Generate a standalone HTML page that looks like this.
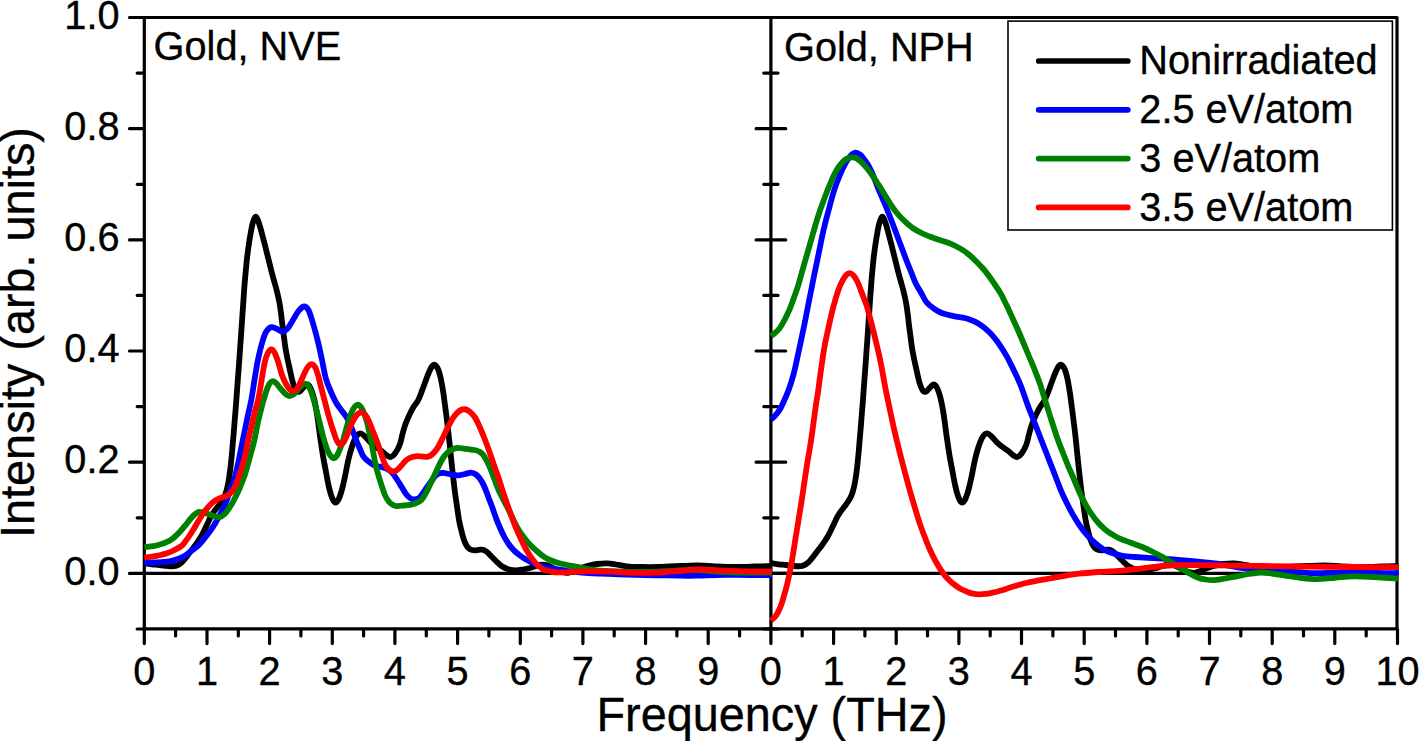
<!DOCTYPE html>
<html>
<head>
<meta charset="utf-8">
<title>Gold phonon spectra</title>
<style>
html,body{margin:0;padding:0;background:#fff;}
body{width:1419px;height:741px;overflow:hidden;font-family:"Liberation Sans",sans-serif;}
svg{display:block;}
</style>
</head>
<body>
<svg width="1419" height="741" viewBox="0 0 1419 741">
<defs>
<clipPath id="cl"><rect x="144.1" y="0" width="627.8" height="741"/></clipPath>
<clipPath id="cr"><rect x="769.9" y="0" width="628.7" height="741"/></clipPath>
</defs>
<rect x="0" y="0" width="1419" height="741" fill="#fff"/>
<g stroke="#000" stroke-width="3.20" fill="none" stroke-linecap="round">
<path d="M144.3 17.5 H1397.0 V628.8 H144.3 Z" stroke-linejoin="round"/>
<path d="M770.9 17.5 V628.8"/>
<path d="M144.3 573.4 H1397.0"/>
</g>
<g stroke="#000" stroke-width="3.20" fill="none" stroke-linecap="round">
<path d="M137.2 629.0H143.7M763.8 629.0H778.0M129.5 573.4H143.7M756.1 573.4H785.7M137.2 517.8H143.7M763.8 517.8H778.0M129.5 462.2H143.7M756.1 462.2H785.7M137.2 406.6H143.7M763.8 406.6H778.0M129.5 351.0H143.7M756.1 351.0H785.7M137.2 295.4H143.7M763.8 295.4H778.0M129.5 239.9H143.7M756.1 239.9H785.7M137.2 184.3H143.7M763.8 184.3H778.0M129.5 128.7H143.7M756.1 128.7H785.7M137.2 73.1H143.7M763.8 73.1H778.0M129.5 17.5H143.7M756.1 17.5H785.7"/>
<path d="M144.3 629.4V643.6M175.6 629.4V635.9M207.0 629.4V643.6M238.3 629.4V635.9M269.6 629.4V643.6M300.9 629.4V635.9M332.3 629.4V643.6M363.6 629.4V635.9M394.9 629.4V643.6M426.3 629.4V635.9M457.6 629.4V643.6M488.9 629.4V635.9M520.3 629.4V643.6M551.6 629.4V635.9M582.9 629.4V643.6M614.2 629.4V635.9M645.6 629.4V643.6M676.9 629.4V635.9M708.2 629.4V643.6M739.6 629.4V635.9M770.9 629.4V643.6M770.9 629.4V643.6M802.2 629.4V635.9M833.6 629.4V643.6M864.9 629.4V635.9M896.2 629.4V643.6M927.5 629.4V635.9M958.9 629.4V643.6M990.2 629.4V635.9M1021.5 629.4V643.6M1052.9 629.4V635.9M1084.2 629.4V643.6M1115.5 629.4V635.9M1146.9 629.4V643.6M1178.2 629.4V635.9M1209.5 629.4V643.6M1240.8 629.4V635.9M1272.2 629.4V643.6M1303.5 629.4V635.9M1334.8 629.4V643.6M1366.2 629.4V635.9M1397.5 629.4V643.6"/>
</g>
<g fill="none" stroke-width="5.8" stroke-linejoin="round" stroke-linecap="butt">
<g clip-path="url(#cr)">
<path stroke="#000000" d="M770.9 563.2C772.2 563.4 776.1 564.0 778.6 564.3C781.1 564.6 783.6 564.7 786.1 565.0C788.6 565.3 791.2 565.7 793.6 565.9C796.0 566.1 798.8 566.4 800.6 566.2C802.4 566.1 803.3 565.6 804.6 565.0C805.9 564.4 807.0 563.5 808.2 562.5C809.4 561.5 810.4 560.1 811.6 558.7C812.8 557.3 814.0 555.6 815.2 554.0C816.4 552.4 817.6 550.8 818.8 549.3C820.0 547.8 821.2 546.2 822.3 544.7C823.4 543.2 824.3 541.9 825.2 540.5C826.1 539.1 827.1 537.6 827.9 536.2C828.7 534.8 829.4 533.4 830.1 532.0C830.8 530.6 831.4 529.3 832.1 527.8C832.8 526.3 833.6 524.7 834.3 523.2C835.0 521.7 835.7 520.0 836.4 518.6C837.1 517.2 837.7 516.2 838.4 515.0C839.1 513.8 839.8 512.7 840.6 511.6C841.4 510.5 842.3 509.5 843.1 508.4C843.9 507.3 844.7 506.3 845.5 505.2C846.3 504.1 847.3 502.8 848.1 501.5C848.9 500.2 849.9 498.8 850.5 497.5C851.1 496.2 851.5 495.3 852.0 494.0C852.5 492.7 852.9 491.2 853.3 489.7C853.7 488.2 854.1 486.6 854.4 485.0C854.8 483.4 855.0 482.4 855.4 479.9C855.8 477.4 856.3 473.8 856.8 470.0C857.3 466.2 857.7 461.8 858.2 457.0C858.7 452.2 859.1 446.8 859.6 441.0C860.1 435.2 860.7 428.5 861.2 422.0C861.7 415.5 862.3 409.0 862.8 402.0C863.3 395.0 863.9 387.5 864.4 380.0C865.0 372.5 865.6 364.3 866.1 357.0C866.6 349.7 867.1 343.2 867.6 336.0C868.1 328.8 868.6 320.8 869.1 314.0C869.6 307.2 870.0 301.2 870.4 295.0C870.9 288.8 871.3 282.7 871.8 277.0C872.3 271.3 872.8 265.8 873.3 261.0C873.8 256.2 874.4 252.0 874.9 248.0C875.5 244.0 875.9 241.0 876.6 237.0C877.3 233.0 878.2 227.4 879.1 224.0C880.0 220.6 881.1 217.4 882.0 216.8C882.9 216.2 883.8 218.7 884.6 220.5C885.4 222.3 886.2 225.0 886.9 227.5C887.6 230.0 888.3 232.7 889.0 235.3C889.7 237.9 890.3 240.4 891.0 243.0C891.7 245.6 892.3 248.3 893.0 251.0C893.7 253.7 894.3 256.3 895.0 259.0C895.7 261.7 896.3 264.2 897.0 267.0C897.7 269.8 898.5 273.1 899.3 276.0C900.1 278.9 901.0 281.8 901.7 284.5C902.5 287.2 903.2 290.0 903.8 292.5C904.4 295.0 904.9 297.2 905.4 299.5C905.9 301.8 906.2 303.6 906.6 306.0C907.0 308.4 907.3 311.1 907.7 314.0C908.1 316.9 908.4 320.0 908.8 323.5C909.2 327.0 909.8 331.1 910.3 335.0C910.8 338.9 911.3 343.0 911.9 347.0C912.5 351.0 913.4 355.5 914.1 359.0C914.8 362.5 915.2 364.0 916.1 368.0C917.0 372.0 918.4 379.2 919.6 383.0C920.8 386.8 922.0 389.6 923.1 391.0C924.2 392.4 925.0 392.0 926.1 391.5C927.2 391.0 928.4 389.2 929.6 388.0C930.9 386.8 932.4 384.5 933.6 384.5C934.9 384.5 935.9 385.7 937.1 388.0C938.3 390.3 939.5 394.2 940.6 398.5C941.7 402.8 942.6 407.8 943.6 414.0C944.6 420.2 945.6 429.0 946.6 436.0C947.6 443.0 948.6 450.0 949.6 456.0C950.6 462.0 951.7 467.0 952.6 472.0C953.5 477.0 954.5 482.4 955.3 486.0C956.1 489.6 956.6 491.5 957.3 493.8C958.0 496.1 958.8 498.3 959.6 499.8C960.4 501.3 961.4 502.6 962.3 502.6C963.2 502.6 964.1 501.3 965.0 499.8C965.9 498.3 966.6 495.9 967.4 493.5C968.2 491.1 968.8 488.8 969.6 485.5C970.4 482.2 971.2 478.4 972.1 474.0C973.0 469.6 974.0 463.7 975.1 459.1C976.2 454.5 977.4 450.2 978.6 446.5C979.9 442.8 981.2 439.2 982.6 437.0C984.0 434.8 985.3 433.4 986.8 433.3C988.3 433.2 989.9 435.0 991.6 436.5C993.3 438.0 995.0 440.6 996.8 442.3C998.6 444.1 1000.6 445.5 1002.6 447.0C1004.6 448.5 1006.8 449.8 1008.6 451.2C1010.4 452.6 1012.1 454.5 1013.6 455.5C1015.1 456.5 1016.1 457.3 1017.4 457.0C1018.7 456.7 1020.1 455.6 1021.6 453.5C1023.1 451.4 1025.2 447.8 1026.4 444.5C1027.7 441.2 1028.1 437.4 1029.1 434.0C1030.0 430.6 1030.9 427.2 1032.1 424.0C1033.3 420.8 1034.8 417.4 1036.1 414.6C1037.4 411.8 1038.7 409.4 1040.1 407.0C1041.5 404.6 1043.3 402.8 1044.6 400.5C1045.8 398.2 1046.7 395.9 1047.6 393.5C1048.5 391.1 1049.3 388.9 1050.2 386.4C1051.1 383.9 1052.1 381.0 1053.1 378.5C1054.0 376.0 1055.0 373.5 1055.9 371.5C1056.8 369.5 1057.8 367.4 1058.6 366.3C1059.4 365.2 1059.9 364.2 1060.9 364.7C1061.9 365.1 1063.5 366.5 1064.6 369.0C1065.7 371.5 1066.7 375.3 1067.6 379.5C1068.5 383.7 1069.3 389.1 1070.1 394.0C1070.8 398.9 1071.4 403.9 1072.1 409.1C1072.8 414.3 1073.4 419.6 1074.1 425.0C1074.8 430.4 1075.3 435.3 1076.0 441.5C1076.7 447.7 1077.3 454.4 1078.1 462.0C1078.9 469.6 1080.1 480.2 1080.9 487.0C1081.7 493.8 1082.3 497.5 1083.1 503.0C1083.9 508.5 1084.8 515.3 1085.6 520.0C1086.4 524.7 1087.3 527.7 1088.1 531.0C1088.9 534.3 1089.7 537.5 1090.6 540.0C1091.5 542.5 1092.6 544.8 1093.6 546.3C1094.6 547.8 1095.3 548.6 1096.6 549.3C1097.9 550.0 1099.8 550.2 1101.3 550.3C1102.8 550.4 1104.2 549.9 1105.6 549.8C1107.0 549.7 1108.3 549.4 1109.6 549.8C1110.9 550.2 1112.3 551.0 1113.6 552.0C1114.9 553.0 1116.1 554.5 1117.6 556.0C1119.1 557.5 1120.7 559.2 1122.6 561.0C1124.5 562.8 1126.7 565.1 1128.9 566.5C1131.1 567.9 1133.3 568.9 1135.6 569.5C1137.9 570.1 1140.4 570.4 1142.7 570.4C1145.0 570.4 1147.3 569.9 1149.6 569.5C1151.9 569.1 1154.4 568.6 1156.6 568.0C1158.8 567.4 1160.6 566.6 1162.6 566.0C1164.6 565.4 1166.4 564.7 1168.4 564.6C1170.4 564.5 1172.2 564.7 1174.6 565.5C1177.0 566.3 1180.1 568.4 1182.6 569.5C1185.1 570.6 1187.6 571.8 1189.6 572.3C1191.6 572.8 1192.8 573.0 1194.6 572.8C1196.4 572.6 1198.6 571.8 1200.6 571.0C1202.6 570.2 1204.4 569.1 1206.6 568.3C1208.8 567.5 1211.0 566.7 1213.8 566.0C1216.6 565.3 1220.3 564.4 1223.6 564.0C1226.9 563.6 1230.3 563.3 1233.5 563.4C1236.7 563.5 1239.3 564.0 1242.6 564.5C1245.9 565.0 1249.2 565.9 1253.2 566.3C1257.2 566.7 1261.4 566.9 1266.6 567.0C1271.8 567.1 1277.9 567.2 1284.6 567.0C1291.3 566.8 1300.0 566.2 1306.6 566.0C1313.2 565.8 1318.4 565.5 1324.2 565.5C1330.0 565.5 1335.0 566.0 1341.6 566.3C1348.2 566.5 1356.9 567.0 1363.6 567.0C1370.3 567.0 1375.8 566.7 1381.6 566.5C1387.4 566.3 1395.8 566.1 1398.6 566.0"/>
<path stroke="#0000ff" d="M770.9 419.6C771.6 419.0 773.5 417.5 775.0 415.8C776.5 414.1 778.2 412.2 779.7 409.7C781.2 407.2 782.5 404.3 784.0 401.0C785.5 397.7 787.0 394.4 788.6 390.0C790.2 385.6 792.0 379.9 793.5 374.4C795.0 368.9 796.2 362.9 797.5 357.0C798.8 351.1 800.1 345.2 801.4 338.9C802.7 332.6 804.2 325.6 805.5 319.0C806.8 312.4 807.9 306.5 809.3 299.5C810.7 292.5 812.6 282.9 813.8 277.0C815.0 271.1 815.7 267.8 816.5 264.0C817.3 260.2 817.6 258.6 818.5 254.3C819.4 250.0 820.7 243.3 821.8 238.0C822.9 232.7 823.9 228.2 825.3 222.7C826.7 217.2 828.5 210.6 830.0 205.0C831.5 199.4 832.9 194.0 834.5 189.2C836.1 184.4 837.9 179.9 839.5 176.0C841.1 172.1 842.6 168.7 844.3 165.5C846.0 162.3 847.8 159.2 849.6 157.0C851.4 154.8 853.5 153.0 855.3 152.6C857.1 152.2 858.8 153.6 860.3 154.8C861.8 156.0 863.1 157.9 864.5 159.8C865.9 161.7 867.1 163.3 868.6 166.0C870.1 168.7 871.8 172.1 873.4 176.0C875.0 179.9 876.7 184.9 878.5 189.2C880.3 193.5 882.2 197.7 884.0 202.0C885.8 206.3 887.5 210.5 889.2 214.8C890.9 219.1 892.5 223.4 894.3 228.0C896.0 232.6 897.8 237.5 899.7 242.5C901.6 247.5 903.5 252.8 905.5 258.0C907.5 263.2 910.2 269.7 911.9 274.0C913.6 278.3 914.3 280.4 915.9 283.7C917.5 286.9 919.7 290.4 921.5 293.5C923.3 296.6 924.5 299.7 926.5 302.2C928.5 304.7 931.2 306.6 933.6 308.3C936.0 310.0 938.2 311.4 940.6 312.5C943.0 313.6 945.1 314.1 947.7 314.8C950.3 315.5 953.3 316.1 956.1 316.6C958.9 317.1 962.0 317.4 964.6 318.0C967.2 318.6 969.2 319.2 971.6 320.2C974.0 321.1 976.4 322.2 978.7 323.7C981.1 325.1 983.4 326.9 985.7 328.9C988.1 330.9 990.4 333.2 992.8 335.9C995.1 338.6 997.5 341.7 999.8 345.1C1002.1 348.5 1004.4 352.2 1006.8 356.4C1009.1 360.6 1011.5 365.6 1013.9 370.5C1016.2 375.4 1018.7 380.4 1020.9 386.0C1023.1 391.6 1025.3 398.5 1027.3 404.0C1029.3 409.5 1031.2 414.1 1033.1 418.9C1035.0 423.7 1036.5 427.7 1038.6 433.0C1040.6 438.3 1043.0 444.3 1045.4 450.5C1047.8 456.7 1051.0 464.9 1053.0 470.0C1055.0 475.1 1055.8 477.4 1057.2 481.0C1058.6 484.6 1059.8 487.9 1061.4 491.7C1063.0 495.4 1065.0 499.6 1067.0 503.5C1069.0 507.4 1071.1 511.6 1073.3 515.4C1075.5 519.1 1077.7 522.7 1080.0 526.0C1082.3 529.3 1084.6 532.3 1087.1 535.1C1089.6 537.9 1092.4 540.7 1095.0 543.0C1097.6 545.3 1100.1 547.2 1102.9 548.9C1105.7 550.6 1108.7 551.9 1112.0 553.0C1115.3 554.1 1118.8 555.1 1122.6 555.8C1126.4 556.5 1130.7 556.7 1135.0 557.0C1139.3 557.3 1143.6 557.5 1148.3 557.8C1153.0 558.1 1158.1 558.4 1163.0 558.7C1167.9 559.0 1171.7 559.3 1177.9 559.8C1184.1 560.3 1193.4 561.1 1200.0 561.8C1206.6 562.4 1209.6 562.6 1217.3 563.7C1225.0 564.8 1236.3 567.4 1246.3 568.6C1256.3 569.8 1268.2 570.3 1277.2 570.9C1286.2 571.5 1293.6 572.0 1300.0 572.4C1306.4 572.8 1310.0 573.1 1315.8 573.2C1321.6 573.3 1328.6 572.9 1335.0 572.8C1341.4 572.7 1347.6 572.5 1354.3 572.5C1361.0 572.5 1367.5 572.8 1375.0 572.9C1382.5 573.0 1395.0 573.2 1399.0 573.2"/>
<path stroke="#008000" d="M770.9 336.0C771.6 335.5 773.5 334.3 775.0 333.0C776.5 331.7 778.1 330.3 779.7 328.1C781.3 325.9 782.9 323.1 784.5 320.0C786.1 316.9 788.1 312.8 789.6 309.3C791.1 305.8 792.2 302.6 793.5 299.0C794.8 295.4 796.2 291.5 797.5 287.6C798.8 283.7 799.7 280.1 801.0 275.5C802.3 270.9 804.0 264.9 805.4 260.0C806.8 255.2 807.9 251.4 809.3 246.4C810.7 241.4 812.4 235.6 814.0 230.0C815.6 224.4 817.7 217.7 819.2 212.9C820.8 208.2 822.0 205.2 823.3 201.5C824.6 197.8 826.0 194.1 827.2 191.0C828.4 187.9 829.5 185.5 830.5 183.0C831.5 180.5 832.2 178.6 833.4 176.2C834.6 173.8 836.1 170.8 837.5 168.6C838.9 166.4 840.3 164.5 841.8 162.9C843.3 161.3 844.7 159.8 846.4 158.9C848.1 158.0 850.1 157.4 851.8 157.3C853.5 157.2 855.0 157.6 856.6 158.4C858.2 159.2 859.5 160.4 861.4 162.2C863.3 164.0 865.7 166.7 867.8 169.3C869.9 171.9 872.0 174.9 874.0 177.8C876.0 180.7 878.0 183.9 879.8 186.8C881.6 189.7 883.2 192.3 885.0 195.3C886.8 198.3 888.9 201.8 890.8 204.6C892.7 207.4 894.4 209.9 896.3 212.3C898.2 214.7 900.1 216.8 902.1 218.8C904.1 220.8 906.0 222.5 908.0 224.2C910.0 225.8 911.6 227.2 913.9 228.7C916.1 230.2 918.9 231.7 921.5 233.0C924.1 234.3 927.0 235.4 929.7 236.5C932.5 237.6 935.0 238.5 938.0 239.5C941.0 240.5 944.6 241.4 947.5 242.5C950.4 243.6 952.9 244.7 955.5 246.0C958.1 247.3 960.8 248.8 963.2 250.4C965.6 252.0 967.7 253.5 970.0 255.5C972.3 257.5 974.8 260.0 977.0 262.2C979.2 264.4 981.0 266.2 983.0 268.5C985.0 270.8 987.0 273.4 988.9 276.0C990.8 278.6 992.5 281.1 994.5 284.0C996.5 286.9 999.1 290.8 1000.7 293.5C1002.3 296.2 1002.9 297.8 1004.0 300.0C1005.1 302.2 1006.4 304.6 1007.5 307.0C1008.6 309.4 1009.5 311.5 1010.7 314.1C1011.9 316.7 1013.2 319.7 1014.5 322.5C1015.8 325.3 1017.1 328.2 1018.4 331.0C1019.6 333.8 1020.8 336.7 1022.0 339.5C1023.2 342.3 1024.3 345.0 1025.5 347.9C1026.7 350.8 1028.0 353.9 1029.3 357.0C1030.6 360.1 1032.0 363.1 1033.2 366.2C1034.5 369.3 1035.6 372.3 1036.8 375.4C1038.0 378.5 1039.2 381.5 1040.3 384.6C1041.4 387.8 1042.3 391.1 1043.3 394.3C1044.3 397.5 1044.9 399.6 1046.3 404.0C1047.7 408.4 1049.6 414.7 1051.5 420.5C1053.4 426.3 1055.6 433.3 1057.5 438.7C1059.4 444.1 1061.2 448.4 1063.0 453.0C1064.8 457.6 1066.6 462.3 1068.3 466.3C1070.0 470.3 1071.2 472.8 1073.0 477.0C1074.8 481.2 1077.2 487.3 1079.2 491.7C1081.2 496.1 1083.0 499.9 1085.0 503.5C1087.0 507.1 1088.8 510.2 1091.0 513.4C1093.2 516.6 1095.7 519.9 1098.0 522.5C1100.3 525.1 1102.5 527.3 1104.8 529.2C1107.0 531.1 1109.2 532.5 1111.5 534.0C1113.8 535.5 1115.6 536.7 1118.7 538.1C1121.8 539.5 1126.1 541.0 1130.0 542.5C1133.9 544.0 1138.6 545.5 1142.3 547.0C1146.0 548.5 1148.7 549.9 1152.0 551.5C1155.3 553.1 1158.8 554.9 1162.1 556.8C1165.4 558.7 1168.7 560.7 1172.0 562.7C1175.3 564.7 1178.8 566.9 1181.8 568.7C1184.8 570.5 1187.4 572.2 1190.0 573.7C1192.6 575.2 1195.1 576.5 1197.6 577.5C1200.1 578.5 1202.4 579.0 1205.0 579.4C1207.6 579.8 1209.8 580.2 1213.0 580.1C1216.2 580.0 1220.0 579.3 1224.0 578.7C1228.0 578.1 1232.8 577.1 1237.0 576.3C1241.2 575.5 1245.0 574.6 1249.0 574.0C1253.0 573.4 1257.4 572.6 1261.2 572.5C1265.0 572.4 1268.0 573.0 1272.0 573.5C1276.0 574.0 1280.2 574.9 1284.9 575.6C1289.6 576.3 1294.8 577.2 1300.0 577.8C1305.2 578.4 1310.0 579.1 1315.8 579.1C1321.6 579.1 1328.6 578.3 1335.0 577.8C1341.4 577.3 1347.6 576.4 1354.3 576.3C1361.0 576.2 1367.5 576.8 1375.0 577.2C1382.5 577.6 1395.0 578.4 1399.0 578.6"/>
<path stroke="#ff0000" d="M770.9 620.4C771.5 619.9 773.4 618.8 774.5 617.5C775.6 616.2 776.7 614.5 777.8 612.5C778.9 610.5 780.0 608.1 781.0 605.5C782.0 602.9 782.8 600.0 783.7 596.7C784.7 593.5 785.7 590.0 786.7 586.0C787.7 582.0 788.6 577.8 789.6 573.0C790.6 568.2 791.5 563.2 792.5 557.5C793.5 551.8 794.4 545.2 795.5 538.5C796.6 531.8 797.9 523.9 799.0 517.0C800.1 510.1 801.0 505.2 802.2 497.0C803.5 488.8 805.0 477.6 806.5 468.0C808.0 458.4 809.7 449.6 811.2 439.3C812.8 429.0 814.6 414.2 815.8 406.0C817.0 397.8 817.4 396.5 818.3 390.0C819.2 383.5 820.3 374.3 821.4 367.0C822.5 359.7 823.4 352.6 824.6 346.0C825.8 339.4 827.2 333.6 828.6 327.1C830.0 320.6 831.7 313.1 833.3 307.0C834.9 300.9 836.7 294.8 838.2 290.5C839.7 286.2 841.0 283.5 842.3 281.0C843.6 278.5 844.8 276.6 846.0 275.3C847.2 274.0 848.4 273.2 849.6 273.2C850.8 273.2 852.0 274.0 853.3 275.3C854.5 276.6 855.8 278.5 857.1 281.0C858.4 283.5 859.7 287.4 860.9 290.5C862.1 293.6 863.3 296.8 864.3 299.5C865.3 302.2 866.0 303.3 867.1 307.0C868.2 310.7 869.5 315.8 871.0 321.5C872.5 327.2 874.2 334.2 875.8 341.0C877.4 347.8 879.1 354.5 880.6 362.0C882.1 369.5 883.6 378.6 885.0 386.0C886.4 393.4 887.7 399.2 889.2 406.5C890.7 413.8 892.6 422.3 894.2 429.5C895.8 436.7 897.4 442.9 899.0 449.5C900.6 456.1 902.3 462.6 904.0 468.9C905.7 475.2 907.4 481.6 909.0 487.5C910.6 493.4 912.1 498.4 913.9 504.4C915.7 510.4 918.0 518.3 919.8 523.7C921.6 529.1 923.1 532.7 924.8 537.0C926.4 541.3 927.9 545.3 929.7 549.3C931.5 553.3 933.5 557.4 935.5 561.0C937.5 564.6 939.6 568.2 941.5 571.0C943.4 573.8 945.0 575.9 947.0 578.0C949.0 580.1 951.2 582.1 953.4 583.9C955.6 585.6 957.7 587.2 960.0 588.5C962.3 589.8 965.0 590.9 967.2 591.8C969.4 592.6 971.0 593.2 973.0 593.6C975.0 594.0 976.8 594.2 979.0 594.3C981.2 594.3 983.7 594.2 986.0 593.9C988.3 593.6 990.1 593.3 992.8 592.7C995.5 592.1 998.7 591.2 1002.0 590.2C1005.3 589.2 1008.6 588.0 1012.6 586.8C1016.6 585.6 1021.4 584.1 1026.0 583.0C1030.6 581.9 1036.1 581.0 1040.0 580.2C1043.9 579.5 1045.6 579.2 1049.6 578.5C1053.6 577.8 1059.1 576.6 1064.0 575.8C1068.9 575.0 1073.5 574.2 1079.2 573.6C1084.9 573.0 1091.4 572.5 1098.0 572.0C1104.6 571.5 1112.9 571.2 1118.7 570.8C1124.5 570.4 1128.1 570.0 1133.0 569.5C1137.9 569.0 1143.3 568.3 1148.3 567.7C1153.3 567.1 1158.1 566.4 1163.0 566.0C1167.9 565.6 1171.7 565.2 1177.9 565.1C1184.1 565.0 1193.4 565.2 1200.0 565.2C1206.6 565.2 1210.6 565.2 1217.3 565.3C1224.0 565.4 1232.6 565.6 1240.0 565.7C1247.4 565.8 1253.4 565.9 1261.7 566.0C1270.0 566.1 1279.7 566.3 1290.0 566.4C1300.3 566.5 1311.8 566.7 1323.5 566.8C1335.2 566.9 1347.4 567.0 1360.0 567.0C1372.6 567.0 1392.5 567.1 1399.0 567.1"/>
</g>
<g clip-path="url(#cl)">
<path stroke="#000000" d="M144.3 563.2C145.6 563.4 149.5 564.0 152.0 564.3C154.5 564.6 157.0 564.7 159.5 565.0C162.0 565.3 164.6 565.7 167.0 565.9C169.4 566.1 172.2 566.4 174.0 566.2C175.8 566.1 176.7 565.6 178.0 565.0C179.3 564.4 180.4 563.5 181.6 562.5C182.8 561.5 183.8 560.1 185.0 558.7C186.2 557.3 187.4 555.6 188.6 554.0C189.8 552.4 191.0 550.8 192.2 549.3C193.4 547.8 194.6 546.2 195.7 544.7C196.8 543.2 197.7 541.9 198.6 540.5C199.5 539.1 200.5 537.6 201.3 536.2C202.1 534.8 202.8 533.4 203.5 532.0C204.2 530.6 204.8 529.3 205.5 527.8C206.2 526.3 207.0 524.7 207.7 523.2C208.4 521.7 209.1 520.0 209.8 518.6C210.5 517.2 211.1 516.2 211.8 515.0C212.5 513.8 213.2 512.7 214.0 511.6C214.8 510.5 215.7 509.5 216.5 508.4C217.3 507.3 218.1 506.3 218.9 505.2C219.7 504.1 220.7 502.8 221.5 501.5C222.3 500.2 223.2 498.8 223.9 497.5C224.6 496.2 224.9 495.3 225.4 494.0C225.9 492.7 226.3 491.2 226.7 489.7C227.1 488.2 227.5 486.6 227.8 485.0C228.2 483.4 228.4 482.4 228.8 479.9C229.2 477.4 229.7 473.8 230.2 470.0C230.7 466.2 231.1 461.8 231.6 457.0C232.1 452.2 232.5 446.8 233.0 441.0C233.5 435.2 234.1 428.5 234.6 422.0C235.1 415.5 235.7 409.0 236.2 402.0C236.7 395.0 237.2 387.5 237.8 380.0C238.4 372.5 239.0 364.3 239.5 357.0C240.0 349.7 240.5 343.2 241.0 336.0C241.5 328.8 242.0 320.8 242.5 314.0C243.0 307.2 243.4 301.2 243.8 295.0C244.2 288.8 244.7 282.7 245.2 277.0C245.7 271.3 246.2 265.8 246.7 261.0C247.2 256.2 247.8 252.0 248.3 248.0C248.9 244.0 249.3 241.0 250.0 237.0C250.7 233.0 251.6 227.4 252.5 224.0C253.4 220.6 254.5 217.4 255.4 216.8C256.3 216.2 257.2 218.7 258.0 220.5C258.8 222.3 259.6 225.0 260.3 227.5C261.0 230.0 261.7 232.7 262.4 235.3C263.1 237.9 263.7 240.4 264.4 243.0C265.1 245.6 265.7 248.3 266.4 251.0C267.1 253.7 267.7 256.3 268.4 259.0C269.1 261.7 269.7 264.2 270.4 267.0C271.1 269.8 271.9 273.1 272.7 276.0C273.5 278.9 274.4 281.8 275.1 284.5C275.9 287.2 276.6 290.0 277.2 292.5C277.8 295.0 278.3 297.2 278.8 299.5C279.3 301.8 279.6 303.6 280.0 306.0C280.4 308.4 280.7 311.1 281.1 314.0C281.5 316.9 281.8 320.0 282.2 323.5C282.6 327.0 283.2 331.1 283.7 335.0C284.2 338.9 284.7 343.0 285.3 347.0C285.9 351.0 286.8 355.5 287.5 359.0C288.2 362.5 288.6 364.0 289.5 368.0C290.4 372.0 291.8 379.2 293.0 383.0C294.2 386.8 295.4 389.6 296.5 391.0C297.6 392.4 298.4 392.0 299.5 391.5C300.6 391.0 301.8 389.2 303.0 388.0C304.2 386.8 305.8 384.5 307.0 384.5C308.2 384.5 309.3 385.7 310.5 388.0C311.7 390.3 312.9 394.2 314.0 398.5C315.1 402.8 316.0 407.8 317.0 414.0C318.0 420.2 319.0 429.0 320.0 436.0C321.0 443.0 322.0 450.0 323.0 456.0C324.0 462.0 325.1 467.0 326.0 472.0C326.9 477.0 327.9 482.4 328.7 486.0C329.5 489.6 330.0 491.5 330.7 493.8C331.4 496.1 332.2 498.3 333.0 499.8C333.8 501.3 334.8 502.6 335.7 502.6C336.6 502.6 337.5 501.3 338.4 499.8C339.2 498.3 340.0 495.9 340.8 493.5C341.6 491.1 342.2 488.8 343.0 485.5C343.8 482.2 344.6 478.4 345.5 474.0C346.4 469.6 347.4 463.7 348.5 459.1C349.6 454.5 350.8 450.2 352.0 446.5C353.2 442.8 354.6 439.2 356.0 437.0C357.4 434.8 358.7 433.4 360.2 433.3C361.7 433.2 363.3 435.0 365.0 436.5C366.7 438.0 368.4 440.6 370.2 442.3C372.0 444.1 374.0 445.5 376.0 447.0C378.0 448.5 380.2 449.8 382.0 451.2C383.8 452.6 385.5 454.5 387.0 455.5C388.5 456.5 389.5 457.3 390.8 457.0C392.1 456.7 393.5 455.6 395.0 453.5C396.5 451.4 398.6 447.8 399.8 444.5C401.1 441.2 401.6 437.4 402.5 434.0C403.4 430.6 404.3 427.2 405.5 424.0C406.7 420.8 408.2 417.4 409.5 414.6C410.8 411.8 412.1 409.4 413.5 407.0C414.9 404.6 416.8 402.8 418.0 400.5C419.2 398.2 420.1 395.9 421.0 393.5C421.9 391.1 422.7 388.9 423.6 386.4C424.5 383.9 425.6 381.0 426.5 378.5C427.4 376.0 428.4 373.5 429.3 371.5C430.2 369.5 431.2 367.4 432.0 366.3C432.8 365.2 433.3 364.2 434.3 364.7C435.3 365.1 436.9 366.5 438.0 369.0C439.1 371.5 440.1 375.3 441.0 379.5C441.9 383.7 442.8 389.1 443.5 394.0C444.2 398.9 444.8 403.9 445.5 409.1C446.2 414.3 446.9 419.6 447.5 425.0C448.1 430.4 448.7 435.3 449.4 441.5C450.1 447.7 450.7 454.4 451.5 462.0C452.3 469.6 453.5 480.2 454.3 487.0C455.1 493.8 455.7 497.5 456.5 503.0C457.3 508.5 458.2 515.3 459.0 520.0C459.8 524.7 460.7 527.7 461.5 531.0C462.3 534.3 463.1 537.5 464.0 540.0C464.9 542.5 466.0 544.8 467.0 546.3C468.0 547.8 468.7 548.6 470.0 549.3C471.3 550.0 473.2 550.2 474.7 550.3C476.2 550.4 477.6 549.9 479.0 549.8C480.4 549.7 481.7 549.4 483.0 549.8C484.3 550.2 485.7 551.0 487.0 552.0C488.3 553.0 489.5 554.5 491.0 556.0C492.5 557.5 494.1 559.2 496.0 561.0C497.9 562.8 500.1 565.1 502.3 566.5C504.5 567.9 506.7 568.9 509.0 569.5C511.3 570.1 513.8 570.4 516.1 570.4C518.4 570.4 520.7 569.9 523.0 569.5C525.3 569.1 527.8 568.6 530.0 568.0C532.2 567.4 534.0 566.6 536.0 566.0C538.0 565.4 539.8 564.7 541.8 564.6C543.8 564.5 545.6 564.7 548.0 565.5C550.4 566.3 553.5 568.4 556.0 569.5C558.5 570.6 561.0 571.8 563.0 572.3C565.0 572.8 566.2 573.0 568.0 572.8C569.8 572.6 572.0 571.8 574.0 571.0C576.0 570.2 577.8 569.1 580.0 568.3C582.2 567.5 584.4 566.7 587.2 566.0C590.0 565.3 593.7 564.4 597.0 564.0C600.3 563.6 603.7 563.3 606.9 563.4C610.1 563.5 612.7 564.0 616.0 564.5C619.3 565.0 622.6 565.9 626.6 566.3C630.6 566.7 634.8 566.9 640.0 567.0C645.2 567.1 651.3 567.2 658.0 567.0C664.7 566.8 673.4 566.2 680.0 566.0C686.6 565.8 691.8 565.5 697.6 565.5C703.4 565.5 708.4 566.0 715.0 566.3C721.6 566.5 730.3 567.0 737.0 567.0C743.7 567.0 749.2 566.7 755.0 566.5C760.8 566.3 769.2 566.1 772.0 566.0"/>
<path stroke="#0000ff" d="M144.3 562.7C146.4 562.6 152.8 562.5 157.0 562.3C161.2 562.1 166.1 561.8 169.6 561.3C173.1 560.8 175.4 560.0 178.0 559.0C180.6 558.0 183.1 556.8 185.4 555.4C187.7 554.0 189.7 552.3 192.0 550.5C194.3 548.7 196.9 546.9 199.2 544.6C201.5 542.3 203.7 539.5 206.0 536.5C208.3 533.5 210.8 530.1 213.0 526.8C215.2 523.5 217.0 520.1 219.0 516.5C221.0 512.9 223.0 509.3 224.8 505.1C226.6 500.9 228.3 495.8 230.0 491.3C231.7 486.8 233.3 483.0 234.7 478.0C236.1 473.0 237.2 467.7 238.5 461.5C239.8 455.3 241.2 447.9 242.6 441.0C244.0 434.1 245.4 427.1 246.9 420.0C248.4 412.9 250.2 405.7 251.5 398.7C252.8 391.7 253.7 384.6 254.8 378.0C255.9 371.4 256.9 365.0 258.1 359.2C259.3 353.4 260.7 347.5 262.0 343.0C263.3 338.5 264.5 334.6 266.0 332.0C267.5 329.4 269.1 327.8 270.8 327.2C272.5 326.6 274.1 327.8 276.0 328.5C277.9 329.2 280.5 331.7 282.5 331.6C284.5 331.5 286.2 329.9 288.0 328.0C289.8 326.1 291.2 322.8 293.0 320.0C294.8 317.2 296.7 313.2 298.5 311.0C300.3 308.8 302.2 306.7 303.8 306.5C305.4 306.3 306.9 307.4 308.4 310.0C309.9 312.6 311.1 317.1 312.6 322.0C314.1 326.9 315.8 333.2 317.4 339.5C319.0 345.8 320.6 353.4 322.0 360.0C323.4 366.6 324.5 373.7 326.0 379.0C327.5 384.3 329.3 388.0 331.0 392.0C332.7 396.0 334.5 399.8 336.3 403.0C338.1 406.2 340.2 408.4 342.0 411.0C343.8 413.6 345.5 415.4 347.2 418.4C348.9 421.4 350.4 425.2 352.0 429.0C353.6 432.8 355.2 437.7 356.5 441.0C357.8 444.3 358.9 446.5 360.0 449.0C361.1 451.5 361.6 453.7 363.0 455.8C364.4 457.9 366.5 459.9 368.5 461.5C370.5 463.1 372.9 464.8 374.8 465.7C376.7 466.6 378.1 466.1 380.0 466.6C381.9 467.1 384.0 467.5 386.0 468.5C388.0 469.5 390.1 470.9 391.8 472.5C393.5 474.1 394.4 475.6 396.0 478.0C397.6 480.4 400.0 484.3 401.7 487.0C403.4 489.7 404.6 492.2 406.0 494.0C407.4 495.8 408.8 497.1 410.0 498.0C411.2 498.9 412.0 499.5 413.5 499.5C415.0 499.5 417.0 499.7 419.0 498.0C421.0 496.3 423.6 492.0 425.4 489.5C427.2 487.0 428.4 485.2 430.0 483.0C431.6 480.8 433.7 477.6 435.2 476.0C436.7 474.4 437.7 474.0 439.0 473.5C440.3 473.0 441.3 472.7 443.1 472.8C444.9 472.9 447.5 473.8 450.0 474.2C452.5 474.6 455.5 475.3 458.0 475.3C460.5 475.3 462.9 474.4 465.0 474.0C467.1 473.6 469.0 472.6 470.8 472.7C472.6 472.8 474.4 473.4 476.0 474.5C477.6 475.6 479.2 477.5 480.6 479.6C482.0 481.7 483.2 484.0 484.5 487.0C485.8 490.0 487.2 493.9 488.5 497.4C489.8 500.9 491.2 504.4 492.5 508.0C493.8 511.6 495.1 515.7 496.4 519.1C497.7 522.5 499.0 525.5 500.3 528.5C501.6 531.5 502.9 534.1 504.3 536.8C505.8 539.5 507.4 542.2 509.0 544.5C510.6 546.8 512.4 548.8 514.2 550.6C516.0 552.4 518.0 554.0 520.0 555.5C522.0 557.0 523.7 558.2 526.0 559.5C528.3 560.8 531.4 562.4 534.0 563.5C536.6 564.6 539.1 565.6 541.8 566.4C544.5 567.2 547.4 567.8 550.0 568.3C552.6 568.8 554.8 569.0 557.6 569.4C560.4 569.8 563.7 570.4 567.0 570.8C570.3 571.2 573.6 571.6 577.3 572.0C581.0 572.4 585.0 572.7 589.0 573.0C593.0 573.3 596.2 573.4 601.0 573.6C605.8 573.8 612.1 574.1 618.0 574.3C623.9 574.5 629.8 574.7 636.5 574.9C643.2 575.1 650.8 575.2 658.0 575.3C665.2 575.4 673.4 575.6 680.0 575.7C686.6 575.8 691.4 575.8 697.6 575.7C703.8 575.6 710.4 575.1 717.0 575.0C723.6 574.9 730.7 574.8 737.0 574.8C743.3 574.8 749.2 575.0 755.0 575.1C760.8 575.2 769.2 575.2 772.0 575.2"/>
<path stroke="#008000" d="M144.3 547.1C145.8 546.9 150.4 546.5 153.0 546.1C155.6 545.7 157.7 545.2 160.0 544.5C162.3 543.8 164.9 542.9 167.1 541.9C169.3 540.9 171.1 539.7 173.0 538.3C174.9 536.9 176.8 535.0 178.4 533.4C180.0 531.8 181.3 530.1 182.7 528.5C184.1 526.9 185.5 525.2 186.8 523.6C188.1 522.0 189.2 520.4 190.4 519.0C191.6 517.6 192.9 516.1 193.9 515.1C194.9 514.1 195.8 513.5 196.7 513.0C197.6 512.5 198.2 512.0 199.5 512.0C200.8 512.0 202.8 512.4 204.5 512.8C206.2 513.2 207.9 513.9 209.4 514.4C210.9 514.9 212.2 515.5 213.6 516.0C215.0 516.5 216.5 517.2 217.8 517.2C219.1 517.2 220.3 516.9 221.5 516.3C222.7 515.7 223.7 514.9 224.9 513.7C226.1 512.5 227.3 510.9 228.5 509.2C229.7 507.5 230.7 505.8 231.9 503.8C233.1 501.8 234.3 499.4 235.5 497.0C236.7 494.6 237.9 492.1 239.0 489.7C240.1 487.3 241.0 484.9 241.9 482.5C242.8 480.1 243.7 478.4 244.6 475.6C245.5 472.8 246.4 469.5 247.5 465.7C248.6 461.9 249.8 457.3 251.0 453.0C252.2 448.7 253.2 445.2 254.4 440.0C255.6 434.8 256.7 427.9 258.0 422.0C259.3 416.1 261.0 409.6 262.3 404.6C263.6 399.6 264.9 395.4 266.0 392.0C267.1 388.6 268.0 386.3 269.0 384.5C270.0 382.7 271.0 381.6 272.2 381.3C273.4 381.1 274.7 381.9 276.0 383.0C277.3 384.1 278.5 386.2 280.0 388.0C281.5 389.8 283.4 392.1 285.0 393.5C286.6 394.9 287.9 396.0 289.4 396.1C290.9 396.2 292.6 395.1 294.0 394.0C295.4 392.9 296.7 391.0 298.0 389.5C299.3 388.0 300.7 385.9 302.0 385.0C303.3 384.1 304.5 383.6 305.7 383.9C306.9 384.2 307.9 385.3 309.0 387.0C310.1 388.7 310.9 390.7 312.0 394.0C313.1 397.3 314.4 401.9 315.6 406.6C316.9 411.3 318.2 416.8 319.5 422.0C320.8 427.2 322.2 433.5 323.5 438.0C324.8 442.5 325.9 446.2 327.0 449.0C328.1 451.8 328.9 453.5 330.0 455.0C331.1 456.5 332.2 458.1 333.4 458.2C334.6 458.3 335.9 457.0 337.0 455.5C338.1 454.0 339.0 451.6 340.0 449.0C341.0 446.4 342.2 443.2 343.2 440.0C344.2 436.8 344.9 433.2 346.0 429.5C347.1 425.8 348.2 421.5 349.5 418.0C350.8 414.5 352.1 410.7 353.5 408.5C354.9 406.3 356.7 404.7 358.0 404.6C359.3 404.5 360.4 406.4 361.5 408.0C362.6 409.6 363.6 412.1 364.5 414.5C365.4 416.9 365.9 418.1 367.0 422.3C368.1 426.6 369.8 434.6 370.9 440.0C372.0 445.4 372.7 450.1 373.7 455.0C374.7 459.9 375.8 465.4 376.8 469.6C377.9 473.9 378.7 476.4 380.0 480.5C381.3 484.6 383.2 490.9 384.7 494.5C386.2 498.1 387.6 500.1 389.0 501.8C390.4 503.6 391.8 504.3 393.0 505.0C394.2 505.7 394.7 506.0 396.5 506.1C398.3 506.2 401.2 505.8 404.0 505.5C406.8 505.2 410.3 504.9 413.0 504.2C415.7 503.4 418.3 502.1 420.0 501.0C421.7 499.9 422.1 499.4 423.4 497.4C424.7 495.4 426.4 492.3 428.0 489.0C429.6 485.7 431.6 481.2 433.3 477.6C435.0 474.0 436.4 470.8 438.0 467.5C439.6 464.2 441.6 460.3 443.1 457.9C444.6 455.5 445.8 454.3 447.1 453.0C448.4 451.7 449.4 450.8 451.0 450.0C452.6 449.2 454.7 448.2 457.0 448.0C459.3 447.8 462.1 448.5 465.0 448.8C467.9 449.1 472.4 449.6 474.7 450.0C477.0 450.4 477.7 450.8 479.0 451.5C480.3 452.2 481.4 452.7 482.6 454.2C483.9 455.7 485.2 458.0 486.5 460.5C487.8 463.0 489.2 465.8 490.5 469.0C491.8 472.2 493.2 476.1 494.5 479.5C495.8 482.9 497.0 486.2 498.4 489.5C499.8 492.8 501.4 495.7 503.0 499.0C504.6 502.3 506.6 505.9 508.3 509.2C510.0 512.5 511.4 515.7 513.0 519.0C514.6 522.3 516.3 525.8 518.1 528.9C519.9 532.0 522.0 534.9 524.0 537.5C526.0 540.1 527.8 542.4 530.0 544.7C532.2 547.0 534.7 549.2 537.0 551.2C539.3 553.2 541.6 555.1 543.8 556.6C546.0 558.1 547.7 559.0 550.0 560.0C552.3 561.0 554.8 562.0 557.6 562.8C560.4 563.6 563.7 564.3 567.0 565.0C570.3 565.7 574.0 566.2 577.3 566.8C580.6 567.4 583.7 568.2 587.0 568.8C590.3 569.4 592.8 570.0 597.0 570.4C601.2 570.8 607.5 571.0 612.0 571.2C616.5 571.4 619.9 571.5 624.0 571.6C628.1 571.7 632.5 571.8 636.5 571.8C640.5 571.8 643.2 571.9 648.0 571.8C652.8 571.7 659.7 571.4 665.0 571.2C670.3 571.0 674.6 570.7 680.0 570.5C685.4 570.3 691.4 569.8 697.6 570.0C703.8 570.2 710.4 571.1 717.0 571.5C723.6 571.9 730.7 572.4 737.0 572.6C743.3 572.8 749.2 572.6 755.0 572.6C760.8 572.6 769.2 572.5 772.0 572.5"/>
<path stroke="#ff0000" d="M144.3 557.4C145.6 557.3 149.4 557.0 152.0 556.6C154.6 556.2 157.2 555.8 159.7 555.2C162.2 554.6 164.7 554.0 167.1 553.2C169.5 552.4 171.7 551.5 174.0 550.3C176.3 549.1 179.3 547.6 181.2 546.1C183.1 544.6 184.1 543.1 185.5 541.3C186.9 539.5 188.2 537.6 189.6 535.5C191.0 533.4 192.6 530.9 194.0 528.5C195.4 526.1 196.7 523.7 198.1 521.4C199.5 519.1 201.1 516.6 202.5 514.5C203.9 512.4 205.2 510.5 206.6 508.8C208.0 507.1 209.4 505.7 210.8 504.3C212.2 502.9 213.4 501.8 215.0 500.7C216.6 499.6 218.6 498.8 220.5 498.0C222.4 497.2 224.7 496.9 226.3 496.1C227.9 495.4 228.8 494.6 230.0 493.5C231.2 492.4 232.4 491.1 233.3 489.7C234.2 488.3 234.9 486.8 235.6 485.2C236.3 483.6 236.9 481.6 237.6 479.9C238.2 478.2 238.9 476.6 239.5 475.0C240.1 473.4 240.5 471.8 241.1 470.0C241.7 468.2 242.1 467.2 242.8 464.5C243.5 461.8 244.6 457.8 245.5 454.0C246.4 450.2 247.1 445.8 248.0 441.5C248.9 437.2 249.9 432.8 251.0 428.0C252.1 423.2 253.3 417.9 254.5 413.0C255.7 408.1 257.2 404.2 258.4 398.7C259.6 393.2 260.6 385.9 261.6 380.0C262.6 374.1 263.6 367.5 264.6 363.0C265.6 358.5 266.6 355.3 267.8 353.0C269.0 350.7 270.4 349.2 271.6 349.3C272.8 349.4 273.9 351.2 275.0 353.5C276.1 355.8 277.3 359.4 278.5 363.0C279.7 366.6 280.8 371.7 282.0 375.0C283.2 378.3 284.3 380.8 285.5 383.0C286.7 385.2 287.8 387.1 289.0 388.5C290.2 389.9 291.6 391.2 292.9 391.2C294.2 391.2 295.6 390.2 297.0 388.5C298.4 386.8 299.7 383.8 301.0 381.0C302.3 378.2 303.8 374.5 305.0 372.0C306.2 369.5 307.4 367.3 308.5 366.0C309.6 364.7 310.6 363.9 311.7 364.1C312.8 364.3 313.9 365.2 315.0 367.0C316.1 368.8 316.9 371.4 318.0 375.0C319.1 378.6 320.2 384.0 321.5 388.8C322.8 393.6 324.2 399.1 325.5 404.0C326.8 408.9 328.1 414.1 329.4 418.4C330.6 422.7 331.8 426.4 333.0 430.0C334.2 433.6 335.3 437.6 336.5 440.0C337.7 442.4 338.8 444.4 340.0 444.6C341.2 444.9 342.7 443.4 344.0 441.5C345.3 439.6 346.7 436.1 348.0 433.0C349.3 429.9 350.7 425.8 352.0 423.0C353.3 420.2 354.8 417.7 356.0 416.0C357.2 414.3 358.5 413.4 359.5 412.8C360.5 412.2 361.0 412.1 362.0 412.5C363.0 412.9 364.3 413.5 365.5 415.0C366.7 416.5 367.8 418.8 369.0 421.5C370.2 424.2 371.7 428.2 373.0 431.5C374.3 434.8 375.6 437.8 376.8 441.0C378.0 444.2 378.7 446.7 380.0 450.5C381.3 454.3 383.2 460.5 384.7 463.7C386.2 466.9 387.6 468.2 389.0 469.5C390.4 470.8 391.5 471.3 392.8 471.4C394.1 471.5 395.6 470.9 397.0 470.0C398.4 469.1 399.6 467.6 401.0 466.0C402.4 464.4 404.2 462.0 405.7 460.6C407.2 459.2 408.4 458.5 410.0 457.8C411.6 457.1 413.7 456.6 415.5 456.3C417.3 456.1 419.0 456.2 421.0 456.3C423.0 456.4 425.6 457.1 427.4 456.8C429.2 456.5 430.4 455.9 432.0 454.5C433.6 453.1 435.5 451.0 437.2 448.5C438.9 446.0 440.4 442.8 442.0 439.5C443.6 436.2 445.4 432.1 447.1 428.8C448.8 425.5 450.4 422.1 452.0 419.5C453.6 416.9 455.5 414.6 457.0 413.0C458.5 411.4 459.7 410.6 461.0 410.0C462.3 409.4 463.4 408.9 464.8 409.1C466.2 409.4 467.9 410.2 469.5 411.5C471.1 412.8 473.0 414.5 474.7 417.0C476.4 419.5 477.9 422.9 479.5 426.5C481.1 430.1 482.9 434.4 484.6 438.7C486.3 442.9 487.9 447.4 489.5 452.0C491.1 456.6 492.9 462.1 494.4 466.3C495.9 470.6 497.0 473.2 498.4 477.5C499.8 481.8 501.4 487.1 503.0 492.0C504.6 496.9 506.6 502.4 508.3 507.2C510.0 511.9 511.4 516.2 513.0 520.5C514.6 524.8 516.4 529.1 518.1 532.9C519.8 536.7 521.4 540.2 523.0 543.5C524.6 546.8 526.3 549.9 528.0 552.6C529.7 555.4 531.4 557.9 533.0 560.0C534.6 562.1 536.2 563.9 537.9 565.4C539.6 566.9 541.4 568.3 543.0 569.2C544.6 570.1 546.2 570.4 547.7 570.8C549.2 571.2 550.4 571.5 552.0 571.8C553.6 572.1 555.1 572.3 557.6 572.4C560.1 572.5 563.7 572.4 567.0 572.3C570.3 572.1 574.0 571.7 577.3 571.5C580.6 571.3 583.7 571.2 587.0 571.2C590.3 571.2 592.8 571.3 597.0 571.4C601.2 571.5 607.1 571.5 612.0 571.7C616.9 571.9 621.7 572.3 626.6 572.5C631.5 572.7 636.8 572.9 641.5 572.9C646.2 572.9 650.8 572.8 655.0 572.6C659.2 572.5 662.6 572.3 666.8 572.0C671.0 571.7 674.9 571.2 680.0 570.8C685.1 570.4 692.0 569.6 697.3 569.5C702.6 569.4 707.2 569.8 712.0 570.0C716.8 570.2 720.5 570.5 726.0 570.7C731.5 570.9 737.3 571.1 745.0 571.3C752.7 571.5 767.5 571.6 772.0 571.7"/>
</g>
</g>
<rect x="1008.0" y="21.1" width="384.4" height="208.9" fill="#fff" stroke="#000" stroke-width="1.6"/>
<path d="M1038.7 61.0 H1127.8" stroke="#000000" stroke-width="5.7" stroke-linecap="round" fill="none"/>
<path d="M1038.7 109.8 H1127.8" stroke="#0000ff" stroke-width="5.7" stroke-linecap="round" fill="none"/>
<path d="M1038.7 158.6 H1127.8" stroke="#008000" stroke-width="5.7" stroke-linecap="round" fill="none"/>
<path d="M1038.7 207.4 H1127.8" stroke="#ff0000" stroke-width="5.7" stroke-linecap="round" fill="none"/>
<g font-family="'Liberation Sans', sans-serif" fill="#000" stroke="#000" stroke-width="0.35">
<text transform="translate(1139.3 74.4) scale(1 1.040)" font-size="39.7">Nonirradiated</text>
<text transform="translate(1139.3 123.2) scale(1 1.040)" font-size="39.7">2.5 eV/atom</text>
<text transform="translate(1139.3 172.0) scale(1 1.040)" font-size="39.7">3 eV/atom</text>
<text transform="translate(1139.3 220.8) scale(1 1.040)" font-size="39.7">3.5 eV/atom</text>
<text transform="translate(153.6 59.6) scale(1 1.040)" font-size="39.7">Gold, NVE</text>
<text transform="translate(784.0 60.6) scale(1 1.040)" font-size="39.7">Gold, NPH</text>
<text transform="translate(119.5 584.6) scale(1 1.040)" font-size="39.7" text-anchor="end">0.0</text>
<text transform="translate(119.5 473.4) scale(1 1.040)" font-size="39.7" text-anchor="end">0.2</text>
<text transform="translate(119.5 362.2) scale(1 1.040)" font-size="39.7" text-anchor="end">0.4</text>
<text transform="translate(119.5 251.1) scale(1 1.040)" font-size="39.7" text-anchor="end">0.6</text>
<text transform="translate(119.5 139.9) scale(1 1.040)" font-size="39.7" text-anchor="end">0.8</text>
<text transform="translate(119.5 28.7) scale(1 1.040)" font-size="39.7" text-anchor="end">1.0</text>
<text transform="translate(144.3 685.0) scale(1 1.040)" font-size="39.7" text-anchor="middle">0</text>
<text transform="translate(207.0 685.0) scale(1 1.040)" font-size="39.7" text-anchor="middle">1</text>
<text transform="translate(269.6 685.0) scale(1 1.040)" font-size="39.7" text-anchor="middle">2</text>
<text transform="translate(332.3 685.0) scale(1 1.040)" font-size="39.7" text-anchor="middle">3</text>
<text transform="translate(394.9 685.0) scale(1 1.040)" font-size="39.7" text-anchor="middle">4</text>
<text transform="translate(457.6 685.0) scale(1 1.040)" font-size="39.7" text-anchor="middle">5</text>
<text transform="translate(520.3 685.0) scale(1 1.040)" font-size="39.7" text-anchor="middle">6</text>
<text transform="translate(582.9 685.0) scale(1 1.040)" font-size="39.7" text-anchor="middle">7</text>
<text transform="translate(645.6 685.0) scale(1 1.040)" font-size="39.7" text-anchor="middle">8</text>
<text transform="translate(708.2 685.0) scale(1 1.040)" font-size="39.7" text-anchor="middle">9</text>
<text transform="translate(770.9 685.0) scale(1 1.040)" font-size="39.7" text-anchor="middle">0</text>
<text transform="translate(833.6 685.0) scale(1 1.040)" font-size="39.7" text-anchor="middle">1</text>
<text transform="translate(896.2 685.0) scale(1 1.040)" font-size="39.7" text-anchor="middle">2</text>
<text transform="translate(958.9 685.0) scale(1 1.040)" font-size="39.7" text-anchor="middle">3</text>
<text transform="translate(1021.5 685.0) scale(1 1.040)" font-size="39.7" text-anchor="middle">4</text>
<text transform="translate(1084.2 685.0) scale(1 1.040)" font-size="39.7" text-anchor="middle">5</text>
<text transform="translate(1146.9 685.0) scale(1 1.040)" font-size="39.7" text-anchor="middle">6</text>
<text transform="translate(1209.5 685.0) scale(1 1.040)" font-size="39.7" text-anchor="middle">7</text>
<text transform="translate(1272.2 685.0) scale(1 1.040)" font-size="39.7" text-anchor="middle">8</text>
<text transform="translate(1334.8 685.0) scale(1 1.040)" font-size="39.7" text-anchor="middle">9</text>
<text transform="translate(1397.5 685.0) scale(1 1.040)" font-size="39.7" text-anchor="middle">10</text>
<text transform="translate(772.0 731.0) scale(1 1.040)" font-size="46.8" text-anchor="middle">Frequency (THz)</text>
<text transform="translate(33.5 332.5) rotate(-90) scale(1 1.040)" font-size="46.8" text-anchor="middle">Intensity (arb. units)</text>
</g>
</svg>
</body>
</html>
